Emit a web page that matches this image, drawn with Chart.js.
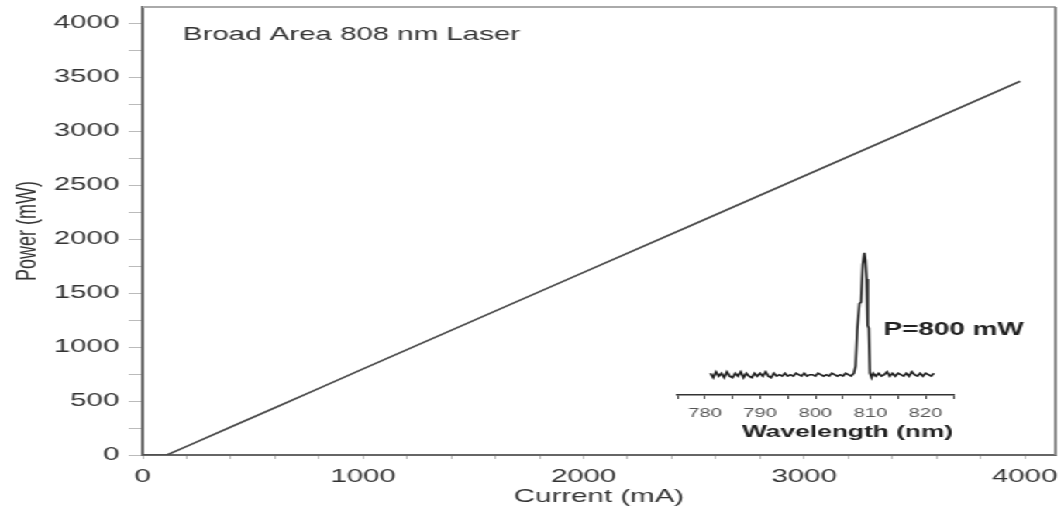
<!DOCTYPE html>
<html>
<head>
<meta charset="utf-8">
<script src="https://cdn.jsdelivr.net/npm/chart.js@4.4.1/dist/chart.umd.min.js"></script>
<style>
    html, body { margin: 0; padding: 0; background: #fff; }
    #wrap { position: relative; width: 684px; height: 515px; transform: scaleX(1.55); transform-origin: 0 0; }
    #inset { position: absolute; left: 425.8px; top: 240px; }
</style>
</head>
<body>
<div id="wrap">
    <canvas id="mainChart" width="684" height="515"></canvas>
    <canvas id="inset" width="252" height="210"></canvas>
</div>
<script>
// L-I curve (current in mA, optical power in mW)
var current = [0, 60, 110, 200, 400, 600, 800, 1000, 1500, 2000, 2500, 3000, 3500, 3980];
var power = [0, 0, 0, 80, 259, 438, 617, 798, 1245, 1692, 2138, 2585, 3032, 3462];

// inset spectrum at P=800 mW (wavelength nm, intensity a.u.)
var wavelength = [
    781, 781.5, 782, 782.5, 783, 783.5, 784, 784.5, 785, 785.5,
    786, 786.5, 787, 787.5, 788, 788.5, 789, 789.5, 790, 790.5,
    791, 791.5, 792, 792.5, 793, 793.5, 794, 794.5, 795, 795.5,
    796, 796.5, 797, 797.5, 798, 798.5, 799, 799.5, 800, 800.5,
    801, 801.5, 802, 802.5, 803, 803.5, 804, 804.5, 805, 805.5,
    806, 806.5,
    807, 807.3, 807.6, 808, 808.3, 808.6, 808.9, 809.1, 809.3, 809.5, 809.7, 809.9, 810.2,
    810.5, 811, 811.5, 812, 812.5, 813, 813.5, 814, 814.5, 815,
    815.5, 816, 816.5, 817, 817.5, 818, 818.5, 819, 819.5, 820,
    820.5, 821, 821.5
];
var intensity = [
    0.15, 0.12, 0.16, 0.13, 0.15, 0.12, 0.16, 0.13, 0.12, 0.15,
    0.13, 0.16, 0.12, 0.15, 0.13, 0.12, 0.15, 0.13, 0.15, 0.13,
    0.16, 0.13, 0.12, 0.15, 0.13, 0.14, 0.13, 0.15, 0.13, 0.14,
    0.13, 0.15, 0.14, 0.13, 0.15, 0.13, 0.14, 0.14, 0.13, 0.15,
    0.14, 0.13, 0.14, 0.13, 0.15, 0.14, 0.13, 0.14, 0.13, 0.15,
    0.14, 0.13,
    0.15, 0.20, 0.45, 0.63, 0.64, 0.90, 0.98, 0.93, 0.80, 0.48, 0.46, 0.15, 0.12,
    0.15, 0.13, 0.15, 0.13, 0.14, 0.16, 0.13, 0.15, 0.13, 0.15,
    0.14, 0.13, 0.15, 0.13, 0.16, 0.14, 0.13, 0.15, 0.13, 0.15,
    0.14, 0.13, 0.15
];

var xMajor = 1000;
var yMajor = 500;
var insetMajor = 10;

Chart.defaults.font.family = '"Liberation Sans", Arial, sans-serif';
Chart.defaults.color = '#333';

var FONT = 'Liberation Sans, Arial, sans-serif';

var frameAndLabel = {
    id: 'frameAndLabel',
    afterDraw: function (chart) {
        var ctx = chart.ctx;
        var a = chart.chartArea;
        ctx.save();
        ctx.lineWidth = 2;
        ctx.strokeStyle = '#aaa';
        ctx.beginPath();
        ctx.moveTo(a.left, a.top);
        ctx.lineTo(a.right, a.top);
        ctx.stroke();
        ctx.strokeStyle = '#888';
        ctx.beginPath();
        ctx.moveTo(a.right, a.top);
        ctx.lineTo(a.right, a.bottom);
        ctx.stroke();
        ctx.fillStyle = '#333';
        ctx.font = '19px ' + FONT;
        ctx.textBaseline = 'middle';
        ctx.fillText('Broad Area 808 nm Laser', 118, 35);
        ctx.restore();
    }
};

new Chart(document.getElementById('mainChart').getContext('2d'), {
    type: 'line',
    data: {
        datasets: [{
            data: current.map(function (c, i) { return {x: c, y: power[i]}; }),
            borderColor: '#4a4a4a',
            borderWidth: 1.7,
            pointRadius: 0,
            tension: 0
        }]
    },
    options: {
        responsive: false,
        animation: false,
        layout: {padding: {top: 7, right: 3, left: 0, bottom: 0}},
        plugins: {legend: {display: false}, tooltip: {enabled: false}},
        scales: {
            x: {
                type: 'linear',
                min: 0,
                max: 4140,
                afterFit: function (s) { s.height = 60; s.paddingLeft = 0; s.paddingRight = 0; },
                ticks: {
                    stepSize: 200,
                    includeBounds: false,
                    autoSkip: false,
                    maxRotation: 0,
                    padding: 6,
                    font: {size: 19},
                    callback: function (v) { return v % xMajor === 0 ? v : ''; }
                },
                grid: {drawOnChartArea: false, tickLength: 4, color: '#bbb'},
                border: {color: '#666', width: 2},
                title: {display: true, text: 'Current (mA)', font: {size: 19}, padding: {top: 0, bottom: 7}}
            },
            y: {
                min: 0,
                max: 4150,
                afterFit: function (s) { s.width = 92; s.paddingTop = 0; s.paddingBottom = 0; },
                ticks: {
                    stepSize: 250,
                    includeBounds: false,
                    autoSkip: false,
                    padding: 6,
                    font: {size: 19},
                    callback: function (v) { return v % yMajor === 0 ? v : ''; }
                },
                grid: {drawOnChartArea: false, tickLength: 9, color: '#bbb'},
                border: {color: '#666', width: 2},
                title: {display: true, text: 'Power (mW)', font: {size: 18}, padding: {top: 7, bottom: 0}}
            }
        }
    },
    plugins: [frameAndLabel]
});

var powerLabel = {
    id: 'powerLabel',
    afterDraw: function (chart) {
        var ctx = chart.ctx;
        ctx.save();
        ctx.fillStyle = '#222';
        ctx.font = 'bold 18px ' + FONT;
        ctx.textBaseline = 'middle';
        ctx.fillText('P=800 mW', 144, 90);
        ctx.restore();
    }
};

new Chart(document.getElementById('inset').getContext('2d'), {
    type: 'line',
    data: {
        datasets: [{
            data: wavelength.map(function (w, i) { return {x: w, y: intensity[i]}; }),
            borderColor: '#222',
            borderWidth: 1.6,
            pointRadius: 0,
            tension: 0
        }]
    },
    options: {
        responsive: false,
        animation: false,
        layout: {padding: {top: 10, right: 63, left: 11, bottom: 0}},
        plugins: {legend: {display: false}, tooltip: {enabled: false}},
        scales: {
            x: {
                type: 'linear',
                min: 775,
                max: 825,
                afterFit: function (s) { s.height = 55; s.paddingLeft = 0; s.paddingRight = 0; },
                ticks: {
                    stepSize: 5,
                    autoSkip: false,
                    maxRotation: 0,
                    padding: 7,
                    color: '#555',
                    font: {size: 13},
                    callback: function (v) { return v % insetMajor === 0 ? v : ''; }
                },
                grid: {drawOnChartArea: false, tickLength: 4, color: '#444'},
                border: {color: '#333', width: 1.5},
                title: {display: true, text: 'Wavelength (nm)', align: 'end', color: '#222', font: {size: 17, weight: 'bold'}, padding: {top: 0, bottom: 7}}
            },
            y: {
                display: false,
                min: 0,
                max: 1
            }
        }
    },
    plugins: [powerLabel]
});
</script>
</body>
</html>
